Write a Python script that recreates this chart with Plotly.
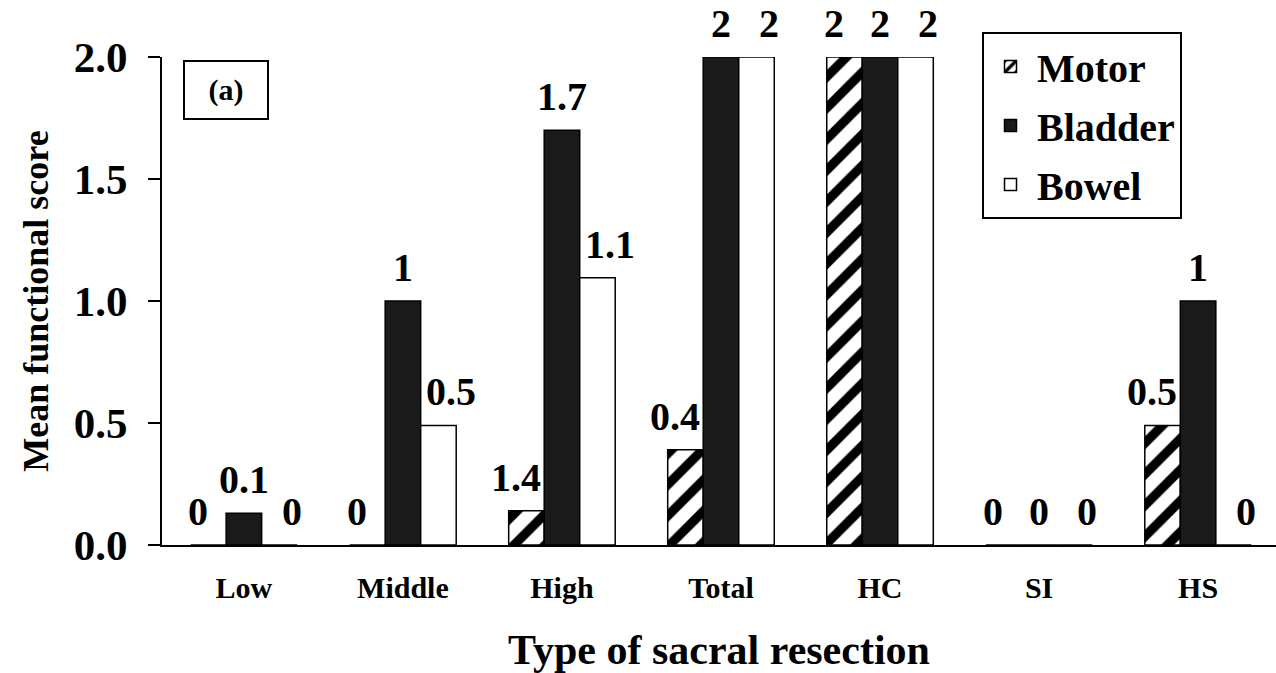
import plotly.graph_objects as go

categories = ["Low", "Middle", "High", "Total", "HC", "SI", "HS"]
motor = [0, 0, 0.14, 0.39, 2.0, 0, 0.49]
bladder = [0.13, 1.0, 1.7, 2.0, 2.0, 0, 1.0]
bowel = [0, 0.49, 1.095, 2.0, 2.0, 0, 0]
motor_text = ["0", "0", "1.4", "0.4", "2", "0", "0.5"]
bladder_text = ["0.1", "1", "1.7", "2", "2", "0", "1"]
bowel_text = ["0", "0.5", "1.1", "2", "2", "0", "0"]
y_ticks = [0.0, 0.5, 1.0, 1.5, 2.0]

FONT = "Liberation Serif, Times New Roman, serif"


def f(size):
    return dict(family=FONT, size=size, color="black", weight="bold")


fig = go.Figure()
fig.add_trace(go.Bar(
    x=categories, y=motor, name="Motor",
    marker=dict(color="white", line=dict(color="black", width=1.5),
                pattern=dict(shape="/", size=22, solidity=0.42,
                             fgcolor="black", bgcolor="white", fgopacity=1)),
    legendgroup="m"))
fig.add_trace(go.Bar(
    x=categories, y=bladder, name="Bladder",
    marker=dict(color="#1a1a1a", line=dict(color="black", width=1.5)),
    legendgroup="b"))
fig.add_trace(go.Bar(
    x=categories, y=bowel, name="Bowel",
    marker=dict(color="white", line=dict(color="black", width=1.5)),
    legendgroup="w"))

# value labels above the bars
series = [(motor, motor_text, -46), (bladder, bladder_text, 0), (bowel, bowel_text, 48)]
for vals, texts, dx in series:
    for c, v, t in zip(categories, vals, texts):
        fig.add_annotation(x=c, y=v, xref="x", yref="y", text=t,
                           showarrow=False, xanchor="center", yanchor="bottom",
                           xshift=dx, yshift=9, font=f(40))

PLOT_TOP = 20
PLOT_BOTTOM = 128
area_h = 673 - PLOT_TOP - PLOT_BOTTOM
y_top_frac = (545 - 57) / area_h

fig.update_layout(
    width=1276, height=673,
    margin=dict(l=162, r=0, t=PLOT_TOP, b=PLOT_BOTTOM, autoexpand=False),
    paper_bgcolor="white", plot_bgcolor="white",
    barmode="group", bargap=0.33, bargroupgap=0,
    font=dict(family=FONT, color="black"),
    showlegend=True,
    legend=dict(x=(982 - 162) / 1114, y=(545 - 32) / area_h,
                xanchor="left", yanchor="top",
                bordercolor="black", borderwidth=2, bgcolor="white",
                font=f(40), tracegroupgap=4, traceorder="grouped",
                itemwidth=43),
    xaxis=dict(range=[-0.515, 6.49], showline=True, linecolor="black",
               linewidth=2, ticks="", showgrid=False, zeroline=False,
               automargin=False, ticklabelstandoff=15,
               tickfont=f(30),
               title=dict(text="Type of sacral resection", font=f(42),
                          standoff=32)),
    yaxis=dict(range=[0, 2.0], domain=[0, y_top_frac], tickvals=y_ticks,
               tickformat=".1f", automargin=False,
               showline=True, linecolor="black", linewidth=2,
               ticks="outside", ticklen=12, tickwidth=2, tickcolor="black",
               showgrid=False, zeroline=False, ticklabelstandoff=12,
               tickfont=f(43),
               title=dict(text="Mean functional score", font=f(36),
                          standoff=14)),
)

fig.add_annotation(x=(183 - 162) / 1114, y=(545 - 60) / area_h,
                   xref="paper", yref="paper",
                   xanchor="left", yanchor="top", text="(a)",
                   showarrow=False, width=82, height=56, borderpad=0,
                   bordercolor="black", borderwidth=2, bgcolor="white",
                   font=f(30))

fig.write_html("out.html",
               config={"displayModeBar": False},
               post_script="document.body.style.margin='0';"
                           "document.body.style.overflow='hidden';")
